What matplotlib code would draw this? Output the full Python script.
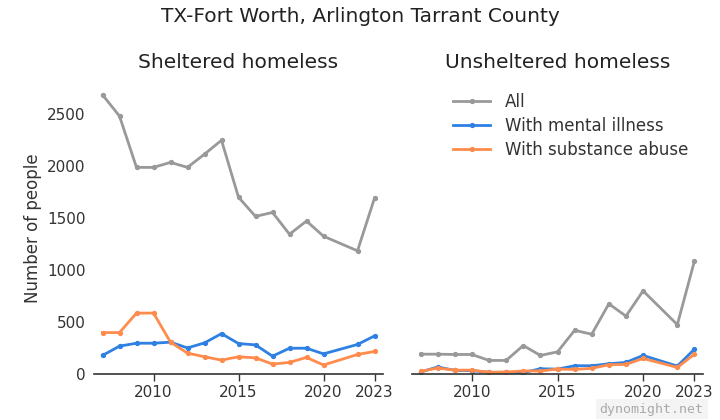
import matplotlib
matplotlib.use("Agg")
import matplotlib.pyplot as plt

years = [2007, 2008, 2009, 2010, 2011, 2012, 2013, 2014, 2015, 2016, 2017, 2018, 2019, 2020, 2022, 2023]

sheltered_all = [2680, 2476, 1984, 1984, 2032, 1984, 2111, 2244, 1698, 1514, 1552, 1343, 1470, 1324, 1184, 1689]
sheltered_mental = [181, 270, 298, 298, 308, 253, 301, 390, 295, 282, 174, 250, 250, 196, 286, 368]
sheltered_substance = [400, 400, 587, 587, 308, 203, 168, 136, 168, 158, 98, 114, 162, 89, 190, 219]

unsheltered_all = [193, 193, 190, 190, 133, 133, 276, 181, 215, 422, 384, 676, 558, 800, 476, 1086]
unsheltered_mental = [22, 70, 38, 35, 19, 19, 16, 53, 50, 82, 82, 101, 114, 181, 79, 241]
unsheltered_substance = [28, 60, 40, 40, 19, 22, 32, 32, 50, 47, 57, 92, 95, 152, 66, 193]

series_labels = ["All", "With mental illness", "With substance abuse"]
panel_titles = ["Sheltered homeless", "Unsheltered homeless"]
xticks = [2010, 2015, 2020, 2023]
yticks = [0, 500, 1000, 1500, 2000, 2500]

colors = ["#999999", "#2f80e3", "#ff8c4d"]

plt.rcParams['font.family'] = ['DejaVu Sans']

fig = plt.figure(figsize=(7.2, 4.2), dpi=100)
ax1 = fig.add_axes([94/720, 1-374.3/420, 289/720, 292/420])
ax2 = fig.add_axes([412/720, 1-374.3/420, 291/720, 292/420], sharey=ax1)

data = [
    [sheltered_all, sheltered_mental, sheltered_substance],
    [unsheltered_all, unsheltered_mental, unsheltered_substance],
]

for ax, series, title in zip([ax1, ax2], data, panel_titles):
    for vals, c, lab in zip(series, colors, series_labels):
        ax.plot(years, vals, color=c, lw=2, marker='o', ms=2.8, label=lab)
    ax.set_xlim(2006.5, 2023.5)
    ax.set_ylim(0, 2800)
    ax.set_xticks(xticks)
    ax.set_xticklabels([str(t) for t in xticks])
    for s in ['top', 'right', 'left']:
        ax.spines[s].set_visible(False)
    ax.spines['bottom'].set_color('#333333')
    ax.spines['bottom'].set_linewidth(1.2)
    ax.tick_params(axis='x', colors='#333333', labelsize=11, length=5, width=1, pad=3)
    ax.tick_params(axis='y', length=0, labelsize=11, colors='#333333', pad=6)
    ax.set_title(title, fontsize=14.5, color='#222222', pad=10)

ax1.set_yticks(yticks)
ax1.set_ylabel("Number of people", fontsize=12, color='#333333', labelpad=4)
ax2.tick_params(axis='y', labelleft=False)

leg = ax2.legend(loc='upper left', bbox_to_anchor=(0.09, 1.015), frameon=False,
                 fontsize=12, handlelength=2.2, labelspacing=0.35, handletextpad=0.9)
for t in leg.get_texts():
    t.set_color('#333333')

fig.text(0.5, 1-17/420, "TX-Fort Worth, Arlington Tarrant County", ha='center', va='center',
         fontsize=14.5, color='#222222')

fig.text(0.905, 1-409/420, "dynomight.net", ha='center', va='center', family='DejaVu Sans Mono',
         fontsize=9.5, color='#aaaaaa',
         bbox=dict(boxstyle='square,pad=0.3', fc='#f4f4f4', ec='none'))

fig.savefig("out.png", dpi=100)
